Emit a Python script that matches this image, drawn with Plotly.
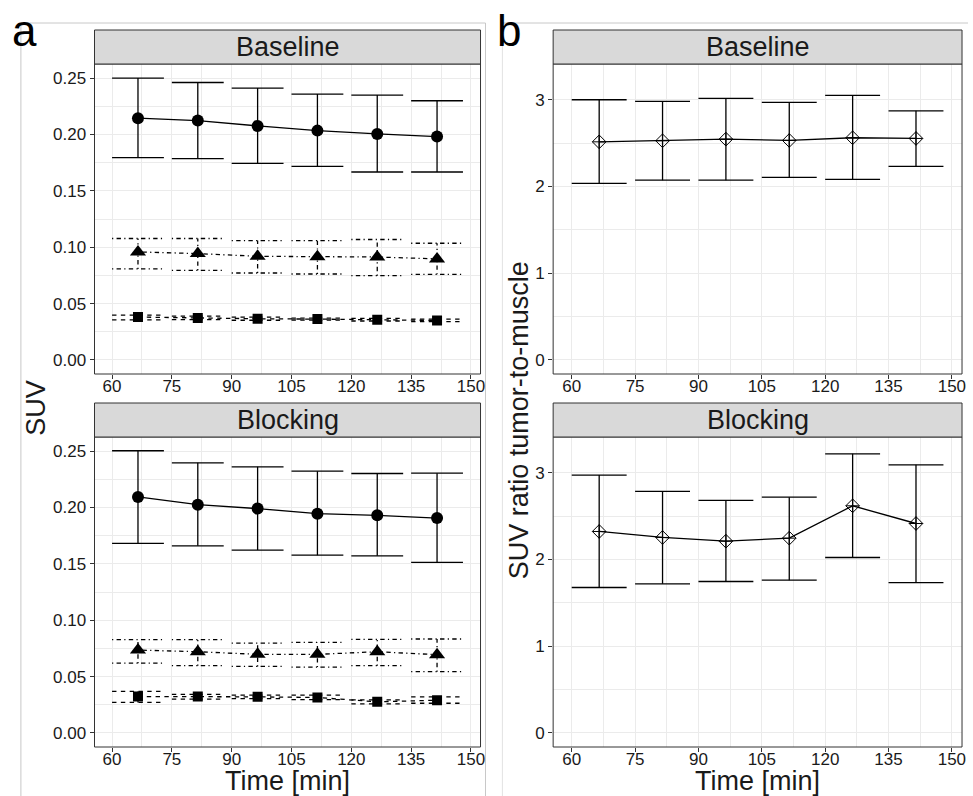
import plotly.graph_objects as go

# ---------------- data ----------------
time_min = [66.5, 81.5, 96.5, 111.5, 126.5, 141.5]
x_ticks = [60, 75, 90, 105, 120, 135, 150]

# Panel a, Baseline (SUV)
base_circle = [0.2144, 0.2123, 0.2076, 0.2034, 0.2005, 0.1981]
base_circle_hi = [0.2500, 0.2461, 0.2411, 0.2358, 0.2349, 0.2299]
base_circle_lo = [0.1794, 0.1785, 0.1744, 0.1717, 0.1667, 0.1667]

base_tri = [0.0958, 0.0943, 0.0919, 0.0916, 0.0913, 0.0896]
base_tri_hi = [0.1077, 0.1077, 0.1059, 0.1059, 0.1068, 0.1035]
base_tri_lo = [0.0807, 0.0795, 0.0771, 0.0762, 0.0747, 0.0759]

base_sq = [0.0380, 0.0371, 0.0365, 0.0362, 0.0356, 0.0350]
base_sq_hi = [0.0398, 0.0388, 0.0380, 0.0370, 0.0368, 0.0362]
base_sq_lo = [0.0356, 0.0358, 0.0352, 0.0354, 0.0345, 0.0340]

# Panel a, Blocking (SUV)
blk_circle = [0.2093, 0.2025, 0.1990, 0.1945, 0.1930, 0.1906]
blk_circle_hi = [0.2503, 0.2396, 0.2360, 0.2322, 0.2301, 0.2304]
blk_circle_lo = [0.1681, 0.1660, 0.1622, 0.1577, 0.1571, 0.1512]

blk_tri = [0.0735, 0.0720, 0.0697, 0.0697, 0.0720, 0.0694]
blk_tri_hi = [0.0827, 0.0827, 0.0797, 0.0803, 0.0830, 0.0833]
blk_tri_lo = [0.0619, 0.0596, 0.0590, 0.0584, 0.0596, 0.0543]

blk_sq = [0.0323, 0.0323, 0.0320, 0.0314, 0.0276, 0.0290]
blk_sq_hi = [0.0368, 0.0341, 0.0336, 0.0336, 0.0293, 0.0320]
blk_sq_lo = [0.0270, 0.0299, 0.0305, 0.0296, 0.0258, 0.0263]

# Panel b (SUV ratio tumor-to-muscle)
base_ratio = [2.515, 2.527, 2.546, 2.531, 2.562, 2.554]
base_ratio_hi = [3.000, 2.981, 3.015, 2.969, 3.050, 2.873]
base_ratio_lo = [2.035, 2.073, 2.073, 2.104, 2.081, 2.231]

blk_ratio = [2.323, 2.254, 2.211, 2.246, 2.619, 2.415]
blk_ratio_hi = [2.973, 2.785, 2.681, 2.719, 3.219, 3.092]
blk_ratio_lo = [1.677, 1.719, 1.746, 1.761, 2.023, 1.734]

suv_ticks = [0.00, 0.05, 0.10, 0.15, 0.20, 0.25]
ratio_ticks = [0, 1, 2, 3]

# ---------------- style ----------------
W, H = 973, 796
FONT = "Liberation Sans, Arial, sans-serif"
INK = "#1a1a1a"
BORDER = "#333333"
GRID = "#EBEBEB"
LW = 1.3
CAP_HALF = 6.5  # half width of error-bar caps, in minutes
DOTDASH = "1.2px,3.3px,4.4px,3.3px"
DASHED = "4.4px,4.4px"


def px(xp):
    return xp / W


def py(yp):
    return 1 - yp / H


fig = go.Figure()


def errbars(t, lo, hi, dash, xa, ya):
    xs, ys = [], []
    for ti, l, h in zip(t, lo, hi):
        xs += [ti, ti, None, ti - CAP_HALF, ti + CAP_HALF, None, ti - CAP_HALF, ti + CAP_HALF, None]
        ys += [l, h, None, h, h, None, l, l, None]
    fig.add_trace(go.Scatter(x=xs, y=ys, mode="lines", xaxis=xa, yaxis=ya,
                             line=dict(color="black", width=LW, dash=dash),
                             hoverinfo="skip", showlegend=False))


def series(t, v, lo, hi, dash, symbol, size, xa, ya, mline=0):
    errbars(t, lo, hi, dash, xa, ya)
    fig.add_trace(go.Scatter(x=t, y=v, mode="lines+markers", xaxis=xa, yaxis=ya,
                             line=dict(color="black", width=LW, dash=dash),
                             marker=dict(symbol=symbol, size=size, color="black",
                                         line=dict(color="black", width=mline)),
                             showlegend=False))


series(time_min, base_circle, base_circle_lo, base_circle_hi, "solid", "circle", 12, "x", "y")
series(time_min, base_tri, base_tri_lo, base_tri_hi, DOTDASH, "triangle-up", 14, "x", "y")
series(time_min, base_sq, base_sq_lo, base_sq_hi, DASHED, "square", 10, "x", "y")

series(time_min, blk_circle, blk_circle_lo, blk_circle_hi, "solid", "circle", 12, "x2", "y2")
series(time_min, blk_tri, blk_tri_lo, blk_tri_hi, DOTDASH, "triangle-up", 14, "x2", "y2")
series(time_min, blk_sq, blk_sq_lo, blk_sq_hi, DASHED, "square", 10, "x2", "y2")

series(time_min, base_ratio, base_ratio_lo, base_ratio_hi, "solid", "diamond-cross-open", 10.5, "x3", "y3", 1)
series(time_min, blk_ratio, blk_ratio_lo, blk_ratio_hi, "solid", "diamond-cross-open", 10.5, "x4", "y4", 1)

# panel geometry (pixels)
LEFT = (95, 483)
RIGHT = (556, 967)
TOP = (64, 374)
BOT = (437, 747)
STRIP_H = 34


def xax(dom, anchor):
    return dict(domain=[px(dom[0]), px(dom[1])], anchor=anchor, range=[55.6, 152.4],
                tickmode="array", tickvals=x_ticks, ticktext=[str(v) for v in x_ticks],
                ticks="outside", ticklen=4, tickwidth=1, tickcolor=BORDER,
                ticklabelstandoff=-7,
                tickfont=dict(family=FONT, size=17, color=INK),
                showgrid=True, gridcolor=GRID, gridwidth=1, zeroline=False, showline=False,
                minor=dict(tickmode="linear", tick0=60, dtick=7.5, showgrid=True,
                           gridcolor=GRID, gridwidth=0.5, ticks=""))


def yax(dom, anchor, rng, tv, fmt, minor_dt):
    return dict(domain=[py(dom[1]), py(dom[0])], anchor=anchor, range=rng,
                tickmode="array", tickvals=tv, ticktext=[fmt.format(v) for v in tv],
                ticks="outside", ticklen=4, tickwidth=1, tickcolor=BORDER,
                tickfont=dict(family=FONT, size=17, color=INK),
                showgrid=True, gridcolor=GRID, gridwidth=1, zeroline=False, showline=False,
                minor=dict(tickmode="linear", tick0=0, dtick=minor_dt, showgrid=True,
                           gridcolor=GRID, gridwidth=0.5, ticks=""))


SUV_RANGE = [-0.0125, 0.2625]
RATIO_RANGE = [-0.1625, 3.4125]

shapes = []
annotations = []

for (xd, yd) in [(LEFT, TOP), (LEFT, BOT), (RIGHT, TOP), (RIGHT, BOT)]:
    shapes.append(dict(type="rect", xref="paper", yref="paper", x0=px(xd[0]), x1=px(xd[1]),
                       y0=py(yd[1]), y1=py(yd[0]), line=dict(color=BORDER, width=1),
                       fillcolor="rgba(0,0,0,0)", layer="above"))
    shapes.append(dict(type="rect", xref="paper", yref="paper", x0=px(xd[0]), x1=px(xd[1]),
                       y0=py(yd[0]), y1=py(yd[0] - STRIP_H), line=dict(color=BORDER, width=1),
                       fillcolor="#D9D9D9", layer="above"))

strip_labels = [(LEFT, TOP, "Baseline"), (LEFT, BOT, "Blocking"),
                (RIGHT, TOP, "Baseline"), (RIGHT, BOT, "Blocking")]
for xd, yd, lab in strip_labels:
    annotations.append(dict(text=lab, xref="paper", yref="paper",
                            x=px((xd[0] + xd[1]) / 2), y=py(yd[0] - STRIP_H / 2),
                            xanchor="center", yanchor="middle", showarrow=False,
                            font=dict(family=FONT, size=27, color=INK)))

# sub-figure frames
FRAME = "#C8C8C8"
FRAME2 = "#E2E2E2"
for x0, y0, x1, y1, c in [(21, 23, 488, 23, FRAME), (21, 23, 21, 796, FRAME),
                          (488, 23, 488, 796, FRAME), (505, 23, 973, 23, FRAME),
                          (505, 23, 505, 796, FRAME2)]:
    shapes.append(dict(type="line", xref="paper", yref="paper", x0=px(x0), x1=px(x1),
                       y0=py(y0), y1=py(y1), line=dict(color=c, width=1), layer="below"))

# axis titles and panel letters
annotations += [
    dict(text="SUV", xref="paper", yref="paper", x=px(36), y=py(408), textangle=-90,
         showarrow=False, xanchor="center", yanchor="middle",
         font=dict(family=FONT, size=27, color=INK)),
    dict(text="SUV ratio tumor-to-muscle", xref="paper", yref="paper", x=px(522), y=py(420),
         textangle=-90, showarrow=False, xanchor="center", yanchor="middle",
         font=dict(family=FONT, size=27, color=INK)),
    dict(text="Time [min]", xref="paper", yref="paper", x=px(289), y=py(781),
         showarrow=False, xanchor="center", yanchor="middle",
         font=dict(family=FONT, size=27, color=INK)),
    dict(text="Time [min]", xref="paper", yref="paper", x=px(761), y=py(781),
         showarrow=False, xanchor="center", yanchor="middle",
         font=dict(family=FONT, size=27, color=INK)),
    dict(text="a", xref="paper", yref="paper", x=px(10), y=py(31),
         showarrow=False, xanchor="left", yanchor="middle",
         font=dict(family=FONT, size=44, color="black")),
    dict(text="b", xref="paper", yref="paper", x=px(498), y=py(31),
         showarrow=False, xanchor="left", yanchor="middle",
         font=dict(family=FONT, size=44, color="black")),
]

fig.update_layout(
    width=W, height=H, margin=dict(l=0, r=0, t=0, b=0),
    paper_bgcolor="white", plot_bgcolor="white", showlegend=False,
    xaxis=xax(LEFT, "y"), yaxis=yax(TOP, "x", SUV_RANGE, suv_ticks, "{:.2f}", 0.025),
    xaxis2=xax(LEFT, "y2"), yaxis2=yax(BOT, "x2", SUV_RANGE, suv_ticks, "{:.2f}", 0.025),
    xaxis3=xax(RIGHT, "y3"), yaxis3=yax(TOP, "x3", RATIO_RANGE, ratio_ticks, "{:d}", 0.5),
    xaxis4=xax(RIGHT, "y4"), yaxis4=yax(BOT, "x4", RATIO_RANGE, ratio_ticks, "{:d}", 0.5),
    shapes=shapes, annotations=annotations,
)

fig.write_html("out.html", config={"displayModeBar": False},
               post_script="document.body.style.margin='0px';document.body.style.overflow='hidden';")
